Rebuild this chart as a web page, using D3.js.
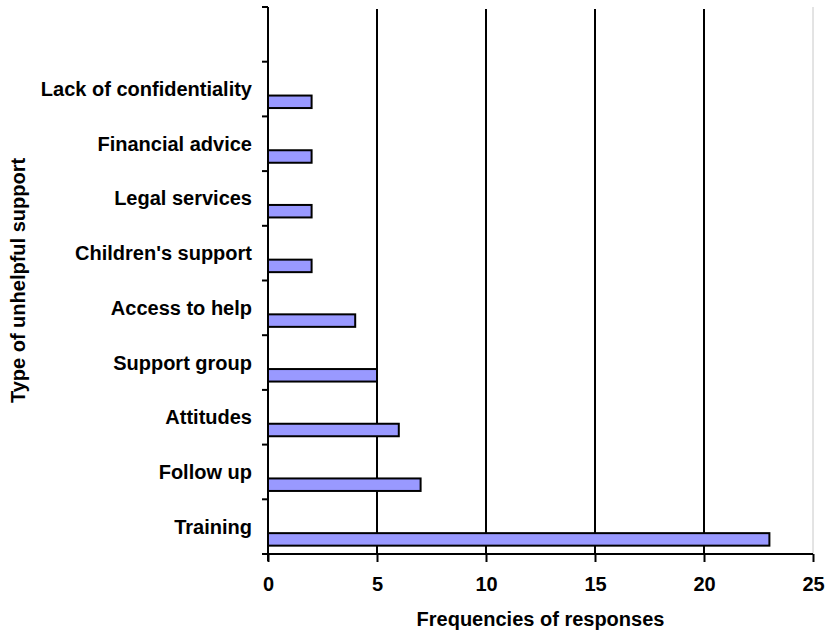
<!DOCTYPE html>
<html><head><meta charset="utf-8">
<script src="https://cdn.jsdelivr.net/npm/d3@7"></script>
<style>body{margin:0;background:#fff}svg{display:block}text{font-family:"Liberation Sans",Arial,sans-serif;font-weight:bold}</style>
</head><body>
<script>
const categories = ["Training","Follow up","Attitudes","Support group","Access to help","Children's support","Legal services","Financial advice","Lack of confidentiality",""];
const values = [23,7,6,5,4,2,2,2,2,null];
const xTicks = [0,5,10,15,20,25];
const xTitle = "Frequencies of responses";
const yTitle = "Type of unhelpful support";

const W=825,H=634, L=268, R=813, T=7, B=554, FS=20;
const svg=d3.select("body").append("svg").attr("width",W).attr("height",H);
const x=d3.scaleLinear().domain([0,25]).range([L,R]);
const y=d3.scaleBand().domain(categories.map((c,i)=>i)).range([B,T]).paddingInner(0).paddingOuter(0);
const bw=y.bandwidth();

// faint plot border at right
svg.append("line").attr("x1",R).attr("x2",R).attr("y1",T).attr("y2",B).attr("stroke","#c8c8c8").attr("stroke-width",1);
// gridlines
svg.append("g").selectAll("line").data(xTicks.filter(t=>t>0&&t<25)).join("line")
  .attr("x1",d=>x(d)).attr("x2",d=>x(d)).attr("y1",T+2).attr("y2",B)
  .attr("stroke","#000").attr("stroke-width",2);

// bars
svg.append("g").selectAll("rect").data(values.map((v,i)=>({v,i})).filter(d=>d.v!=null)).join("rect")
  .attr("x",x(0)).attr("width",d=>x(d.v)-x(0))
  .attr("y",d=>y(d.i)+bw*0.5+6.5).attr("height",12.5)
  .attr("fill","#9999ff").attr("stroke","#000").attr("stroke-width",2);

// y axis
svg.append("line").attr("x1",L).attr("x2",L).attr("y1",T).attr("y2",B+7).attr("stroke","#000").attr("stroke-width",2);
const yEdges=d3.range(categories.length+1).map(i=>B - i*bw);
svg.append("g").selectAll("line").data(yEdges).join("line")
  .attr("x1",L-6).attr("x2",L).attr("y1",d=>d).attr("y2",d=>d).attr("stroke","#000").attr("stroke-width",2);
svg.append("g").selectAll("text").data(categories.map((c,i)=>({c,i}))).join("text")
  .attr("x",L-16).attr("y",d=>y(d.i)+bw/2).attr("dy","0.35em").attr("text-anchor","end")
  .attr("font-size",FS).text(d=>d.c);

// x axis
const xAxis=d3.axisBottom(x).tickValues(xTicks).tickSize(8).tickPadding(15);
const gx=svg.append("g").attr("transform",`translate(0,${B})`).call(xAxis);
gx.select(".domain").remove();
gx.selectAll(".tick line").attr("stroke","#000").attr("stroke-width",2);
gx.selectAll(".tick text").attr("font-size",FS).attr("fill","#000").attr("font-family",null);
svg.append("line").attr("x1",L-6).attr("x2",R).attr("y1",B).attr("y2",B).attr("stroke","#000").attr("stroke-width",2);

svg.append("text").attr("x",(L+R)/2).attr("y",626).attr("text-anchor","middle").attr("font-size",FS).text(xTitle);
svg.append("text").attr("transform",`translate(25,${(T+B)/2}) rotate(-90)`).attr("text-anchor","middle").attr("font-size",FS).text(yTitle);
</script>
</body></html>
